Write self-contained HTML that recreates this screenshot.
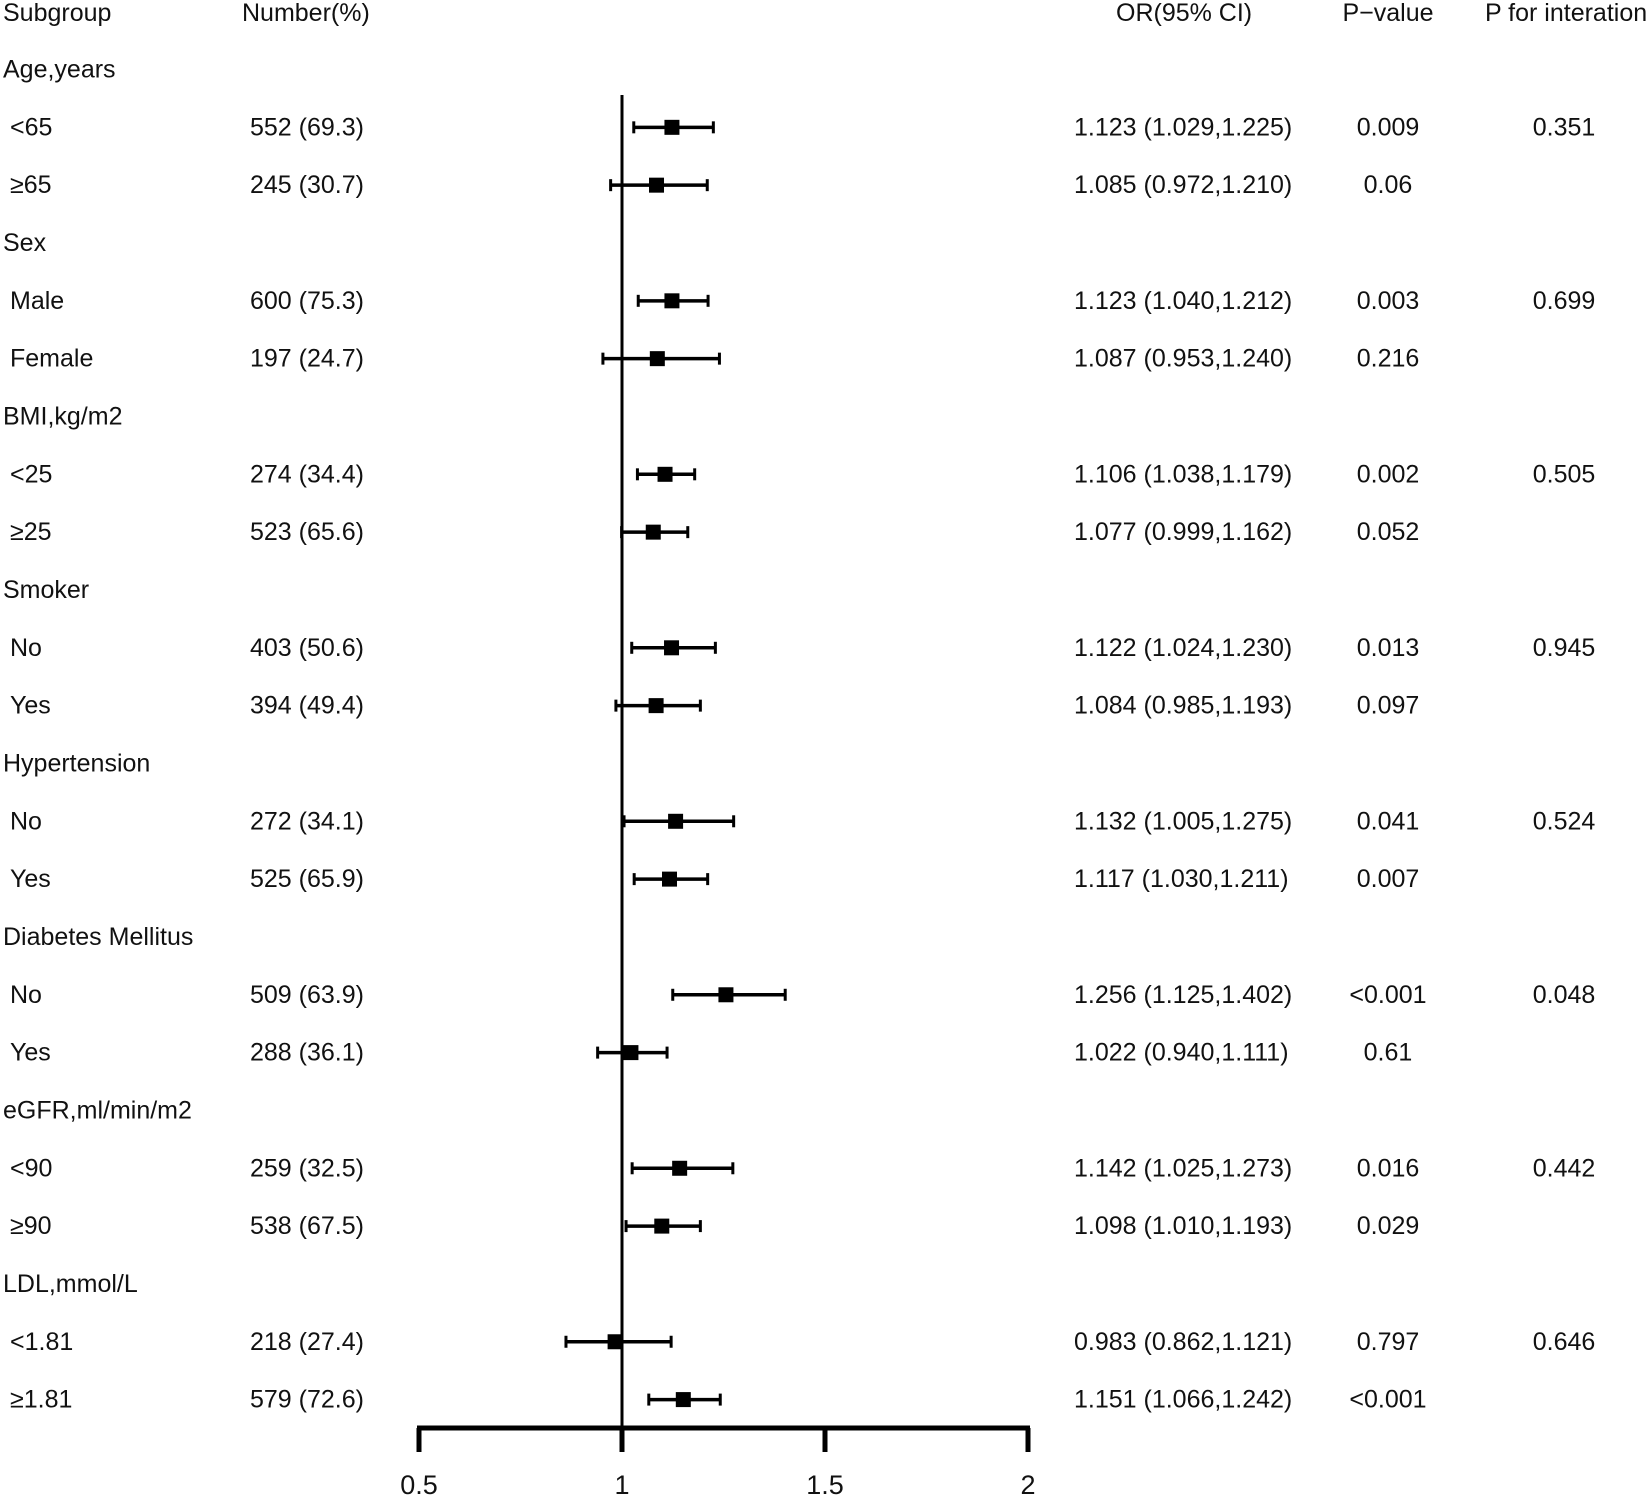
<!DOCTYPE html>
<html><head><meta charset="utf-8"><style>
html,body{margin:0;padding:0;background:#fff;}
svg{display:block;font-family:"Liberation Sans",Arial,sans-serif;}
</style></head><body>
<svg id="chart" width="1650" height="1496" viewBox="0 0 1650 1496" xmlns="http://www.w3.org/2000/svg"></svg>
<script>
const labels=["Age,years","<65","≥65","Sex","Male","Female","BMI,kg/m2","<25","≥25","Smoker","No","Yes","Hypertension","No","Yes","Diabetes Mellitus","No","Yes","eGFR,ml/min/m2","<90","≥90","LDL,mmol/L","<1.81","≥1.81"];
const isHeader=[1,0,0,1,0,0,1,0,0,1,0,0,1,0,0,1,0,0,1,0,0,1,0,0];
const numbers=["","552 (69.3)","245 (30.7)","","600 (75.3)","197 (24.7)","","274 (34.4)","523 (65.6)","","403 (50.6)","394 (49.4)","","272 (34.1)","525 (65.9)","","509 (63.9)","288 (36.1)","","259 (32.5)","538 (67.5)","","218 (27.4)","579 (72.6)"];
const orVals=[null,1.123,1.085,null,1.123,1.087,null,1.106,1.077,null,1.122,1.084,null,1.132,1.117,null,1.256,1.022,null,1.142,1.098,null,0.983,1.151];
const lowVals=[null,1.029,0.972,null,1.040,0.953,null,1.038,0.999,null,1.024,0.985,null,1.005,1.030,null,1.125,0.940,null,1.025,1.010,null,0.862,1.066];
const highVals=[null,1.225,1.210,null,1.212,1.240,null,1.179,1.162,null,1.230,1.193,null,1.275,1.211,null,1.402,1.111,null,1.273,1.193,null,1.121,1.242];
const pVals=["","0.009","0.06","","0.003","0.216","","0.002","0.052","","0.013","0.097","","0.041","0.007","","<0.001","0.61","","0.016","0.029","","0.797","<0.001"];
const pInter=["","0.351","","","0.699","","","0.505","","","0.945","","","0.524","","","0.048","","","0.442","","","0.646",""];
const ticks=[0.5,1,1.5,2];
const tickLabels=["0.5","1","1.5","2"];

const svg=document.getElementById('chart');
const NS='http://www.w3.org/2000/svg';
const x=v=>419+(v-0.5)*406;
const rowY=i=>69.5+57.83*i;
function mk(tag,attrs,parent){const e=document.createElementNS(NS,tag);for(const k in attrs)e.setAttribute(k,attrs[k]);(parent||svg).appendChild(e);return e;}
function txt(s,xx,yy,anchor,name){const t=mk('text',{x:xx,y:yy,'font-size':25,'text-anchor':anchor||'start','dominant-baseline':'central',fill:'#111'});t.textContent=s;


return t;}
txt("Subgroup",3,13,'start','header-subgroup');
txt("Number(%)",242,13,'start','header-number');
txt("OR(95% CI)",1116,13,'start','header-or');
txt("P−value",1388,13,'middle','header-p-value');
txt("P for interation",1485,13,'start','header-p-interaction');

const ref=mk('line',{x1:x(1),x2:x(1),y1:95,y2:1428,stroke:'#000','stroke-width':3});



labels.forEach((l,i)=>{
  const y=rowY(i);
  txt(l,isHeader[i]?3:10,y,'start','row-label');
  if(numbers[i])txt(numbers[i],250,y,'start','row-number');
  if(orVals[i]!=null){
    txt(orVals[i].toFixed(3)+" ("+lowVals[i].toFixed(3)+","+highVals[i].toFixed(3)+")",1074,y,'start','row-or-ci');
    const g=mk('g',{});
    
    
    mk('line',{x1:x(lowVals[i]),x2:x(highVals[i]),y1:y,y2:y,stroke:'#000','stroke-width':3.5},g);
    mk('line',{x1:x(lowVals[i]),x2:x(lowVals[i]),y1:y-6,y2:y+6,stroke:'#000','stroke-width':3},g);
    mk('line',{x1:x(highVals[i]),x2:x(highVals[i]),y1:y-6,y2:y+6,stroke:'#000','stroke-width':3},g);
    mk('rect',{x:x(orVals[i])-7.5,y:y-7.5,width:15,height:15,fill:'#000'},g);
  }
  if(pVals[i])txt(pVals[i],1388,y,'middle','row-p-value');
  if(pInter[i])txt(pInter[i],1564,y,'middle','row-p-interaction');
});

const ax=mk('line',{x1:x(0.5)-2,x2:x(2)+2,y1:1428,y2:1428,stroke:'#000','stroke-width':5});


ticks.forEach((t,i)=>{
  const tk=mk('line',{x1:x(t),x2:x(t),y1:1428,y2:1452,stroke:'#000','stroke-width':5});
  
  
  const lb=mk('text',{x:x(t),y:1485,'font-size':27,'text-anchor':'middle','dominant-baseline':'central',fill:'#111'});
  lb.textContent=tickLabels[i];
  
  
});
</script>
</body></html>
